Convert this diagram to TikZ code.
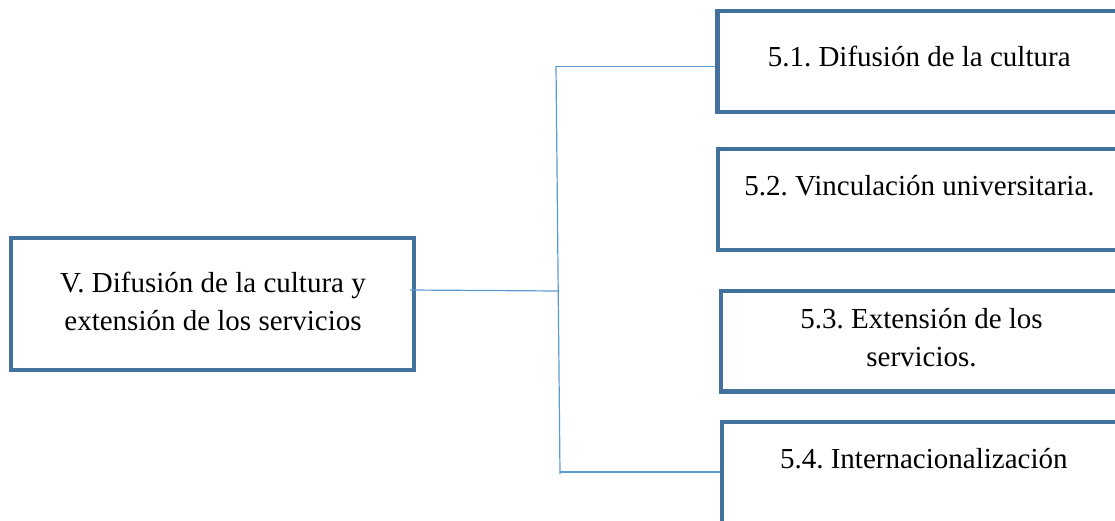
\documentclass[tikz,border=0pt]{standalone}
\usepackage{fontspec}
\setmainfont{Liberation Serif}
\frenchspacing
\definecolor{boxblue}{HTML}{41719C}
\definecolor{linkblue}{HTML}{5B9BD5}
\tikzset{
  boxframe/.style={draw=boxblue, line width=4.5pt, rectangle, inner sep=0pt, fill=none},
  conn/.style={draw=linkblue, line width=1.2pt},
  label/.style={font=\fontsize{29}{37.5}\selectfont\frenchspacing, text=black, inner sep=0pt, align=center},
}
\begin{document}
\begin{tikzpicture}[x=1pt,y=-1pt]
\fill[white] (0,0) rectangle (1115,520);
\useasboundingbox (0,0) rectangle (1115,520);
\begin{scope}
\clip (0,0) rectangle (1115,520);
% boxes
\node[boxframe, minimum width=403pt, minimum height=132pt] (main) at (212.5,304) {};
\node[boxframe, minimum width=403.5pt, minimum height=101pt] (b1) at (919.25,61.5) {};
\node[boxframe, minimum width=403pt, minimum height=101pt] (b2) at (919.5,199.5) {};
\node[boxframe, minimum width=400pt, minimum height=100.7pt] (b3) at (921,341.3) {};
\node[boxframe, minimum width=399pt, minimum height=102pt] (b4) at (921.5,473) {};
% texts (base anchor of a two-line label is its last line)
\node[label, anchor=base] (tmain) at (213,330) {V. Difusión de la cultura y\\extensión de los servicios};
\node[label, anchor=base] (t1) at (919.2,66.7) {5.1. Difusión de la cultura};
\node[label, anchor=base] (t2) at (919.5,195) {5.2. Vinculación universitaria.};
\node[label, anchor=base] (t3) at (921.5,366) {5.3. Extensión de los\\servicios.};
\node[label, anchor=base] (t4) at (923.8,468.3) {5.4. Internacionalización};
% connectors
\coordinate (jtop) at (556,66.7);
\coordinate (jmid) at (559,291);
\coordinate (jbot) at (560,472);
\coordinate (mstart) at (410,290);
\draw[conn] (556,66) -- (560,474);
\draw[conn] (mstart) -- (jmid);
\draw[conn] (jtop) -- (b1.west |- jtop);
\draw[conn] (jbot) -- (b4.west |- jbot);
\end{scope}
\end{tikzpicture}
\end{document}
